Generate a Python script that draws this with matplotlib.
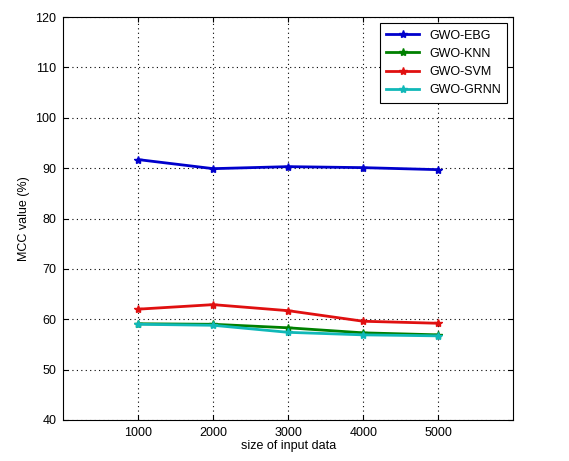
import matplotlib.pyplot as plt

sizes = [1000, 2000, 3000, 4000, 5000]
gwo_ebg = [91.7, 89.9, 90.3, 90.1, 89.7]
gwo_knn = [59.1, 59.0, 58.3, 57.3, 56.9]
gwo_svm = [62.0, 62.9, 61.7, 59.6, 59.2]
gwo_grnn = [59.0, 58.8, 57.4, 56.9, 56.7]

plt.rcParams['font.family'] = 'Liberation Sans'

fig = plt.figure(figsize=(5.69, 4.61), dpi=100)
ax = fig.add_axes([0.111, 0.089, 0.791, 0.874])

ax.plot(sizes, gwo_ebg, color='#0000cc', marker='*', markersize=6, lw=2, label='GWO-EBG')
ax.plot(sizes, gwo_knn, color='#008000', marker='*', markersize=6, lw=2, label='GWO-KNN')
ax.plot(sizes, gwo_svm, color='#e01010', marker='*', markersize=6, lw=2, label='GWO-SVM')
ax.plot(sizes, gwo_grnn, color='#10b8b8', marker='*', markersize=6, lw=2, label='GWO-GRNN')

ax.set_xlim(0, 6000)
ax.set_ylim(40, 120)
ax.set_xticks(sizes)
ax.set_yticks(range(40, 121, 10))
ax.grid(True, color='black', linestyle=(0, (1, 3)), linewidth=0.8)
ax.tick_params(direction='in', labelsize=9, top=True, right=True, pad=5)
ax.set_xlabel('size of input data', fontsize=9, labelpad=1)
ax.set_ylabel('MCC value (%)', fontsize=9)

leg = ax.legend(loc='upper right', fontsize=9, fancybox=False, framealpha=1,
                edgecolor='black', borderpad=0.5, handlelength=2.6)
leg.get_frame().set_linewidth(0.8)

fig.savefig('out.png', dpi=100)
